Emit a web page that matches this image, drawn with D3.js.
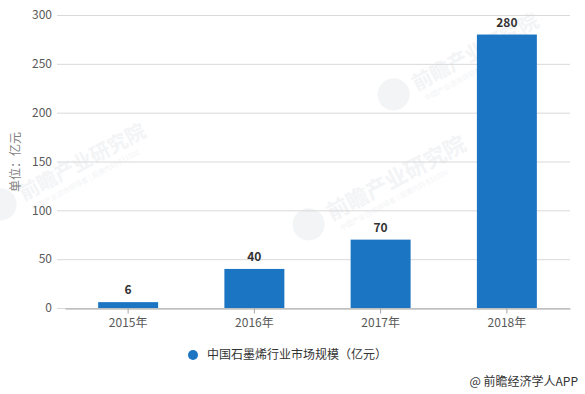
<!DOCTYPE html>
<html><head><meta charset="utf-8">
<script src="https://cdn.jsdelivr.net/npm/d3@7"></script>
<style>
html,body{margin:0;padding:0;background:#fff;}
svg{display:block;font-family:"Microsoft YaHei","Noto Sans CJK SC","DejaVu Sans",sans-serif;}
</style></head>
<body>
<svg id="c" width="585" height="394"></svg>
<script>
const categories = ["2015年","2016年","2017年","2018年"];
const values = [6, 40, 70, 280];
const yTicks = [0, 50, 100, 150, 200, 250, 300];
const seriesName = "中国石墨烯行业市场规模（亿元）";
const yTitle = "单位：亿元";
const source = "@ 前瞻经济学人APP";

const svg = d3.select("#c");
const x = d3.scaleBand().domain(categories).range([65, 570]).paddingInner(0.525).paddingOuter(0.2625);
const y = d3.scaleLinear().domain([0, 300]).range([308, 15]);

// watermarks (faint)
const wm = svg.append("g").attr("fill", "#f3f4f6").attr("font-weight", "bold");
[[385, 108, 20], [300, 238, 22], [-8, 218, 20]].forEach(([wx, wy, fs]) => {
  const g = wm.append("g").attr("transform", `translate(${wx},${wy}) rotate(-28)`);
  g.append("circle").attr("cx", 14).attr("cy", -8).attr("r", 16);
  g.append("text").attr("x", 36).attr("y", 0).attr("font-size", fs).text("前瞻产业研究院");
  g.append("text").attr("x", 40).attr("y", 13).attr("font-size", 7).attr("font-weight", "normal").text("中国产业咨询领导者 | 股票代码 831000");
});

// gridlines
svg.append("g").selectAll("line").data(yTicks).join("line")
  .attr("x1", 57).attr("x2", 570)
  .attr("y1", d => y(d) + 0.5).attr("y2", d => y(d) + 0.5)
  .attr("stroke", "#d9d9d9").attr("stroke-width", 1);

// y tick labels
svg.append("g").selectAll("text").data(yTicks).join("text")
  .attr("x", 52).attr("y", d => y(d)).attr("dy", "0.35em")
  .attr("text-anchor", "end").attr("font-size", 12).attr("fill", "#595959")
  .text(d => d);

// bars
svg.append("g").selectAll("rect").data(values).join("rect")
  .attr("x", (d, i) => x(categories[i]))
  .attr("width", x.bandwidth())
  .attr("y", d => y(d))
  .attr("height", d => y(0) - y(d))
  .attr("fill", "#1b75c2");

// x axis
const xAxis = svg.append("g").attr("transform", `translate(0,${y(0) + 0.5})`)
  .call(d3.axisBottom(x).tickSize(5).tickSizeOuter(0));
xAxis.select(".domain").attr("stroke", "#a6a6a6");
xAxis.selectAll(".tick line").attr("stroke", "#a6a6a6");
xAxis.selectAll(".tick text").attr("font-size", 12).attr("fill", "#595959").attr("dy", "0.9em")
  .attr("font-family", "'Microsoft YaHei','Noto Sans CJK SC',sans-serif");

// data labels
svg.append("g").selectAll("text").data(values).join("text")
  .attr("x", (d, i) => x(categories[i]) + x.bandwidth() / 2)
  .attr("y", d => y(d) - 8)
  .attr("text-anchor", "middle").attr("font-size", 12).attr("font-weight", "bold").attr("fill", "#333")
  .text(d => d);

// y title
svg.append("text").attr("transform", "translate(20,162) rotate(-90)")
  .attr("text-anchor", "middle").attr("font-size", 12).attr("fill", "#7f7f7f").text(yTitle);

// legend
svg.append("circle").attr("cx", 193).attr("cy", 355).attr("r", 5).attr("fill", "#1b75c2");
svg.append("text").attr("x", 207).attr("y", 355).attr("dy", "0.35em")
  .attr("font-size", 12).attr("fill", "#333").text(seriesName);

// source
svg.append("text").attr("x", 578).attr("y", 382).attr("dy", "0.35em").attr("text-anchor", "end")
  .attr("font-size", 12).attr("fill", "#333").text(source);
</script>
</body></html>
